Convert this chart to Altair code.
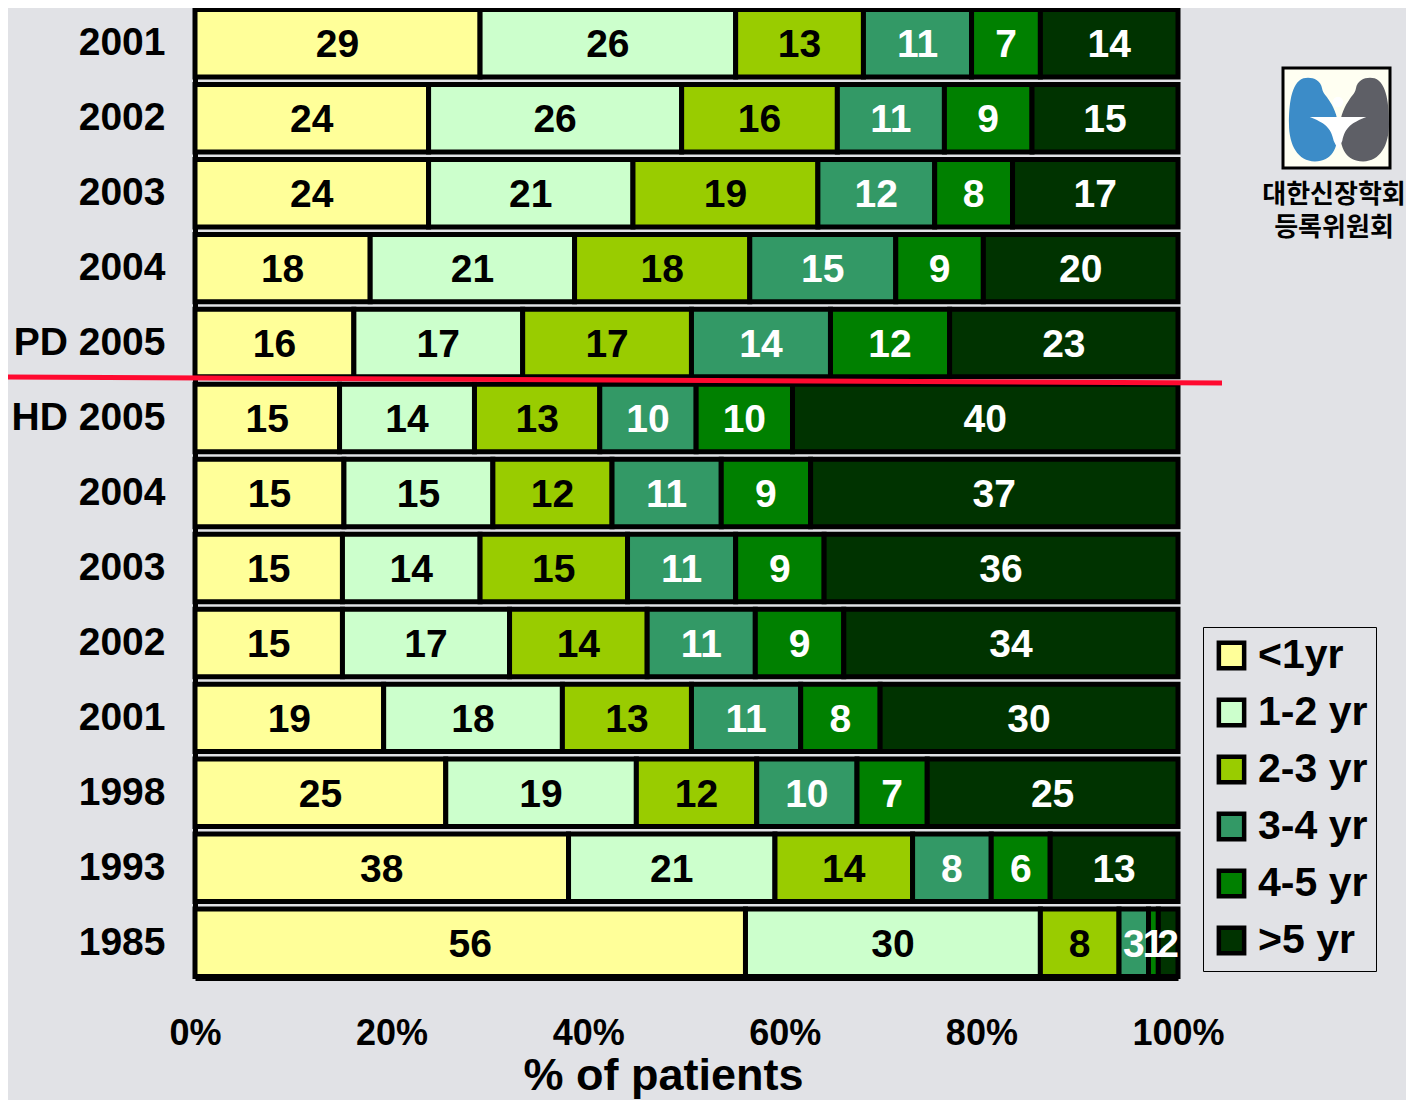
import altair as alt
import pandas as pd

row_labels = ["2001", "2002", "2003", "2004", "PD 2005", "HD 2005",
              "2004", "2003", "2002", "2001", "1998", "1993", "1985"]
categories = ["<1yr", "1-2 yr", "2-3 yr", "3-4 yr", "4-5 yr", ">5 yr"]
colors = ["#FFFF99", "#CCFFCC", "#99CC00", "#339966", "#008000", "#003300"]
text_colors = ["black", "black", "black", "white", "white", "white"]

lt1 = [29, 24, 24, 18, 16, 15, 15, 15, 15, 19, 25, 38, 56]
y1_2 = [26, 26, 21, 21, 17, 14, 15, 14, 17, 18, 19, 21, 30]
y2_3 = [13, 16, 19, 18, 17, 13, 12, 15, 14, 13, 12, 14, 8]
y3_4 = [11, 11, 12, 15, 14, 10, 11, 11, 11, 11, 10, 8, 3]
y4_5 = [7, 9, 8, 9, 12, 10, 9, 9, 9, 8, 7, 6, 1]
gt5 = [14, 15, 17, 20, 23, 40, 37, 36, 34, 30, 25, 13, 2]
series = [lt1, y1_2, y2_3, y3_4, y4_5, gt5]

x_ticks = [0, 0.2, 0.4, 0.6, 0.8, 1.0]
logo_line1 = "대한신장학회"
logo_line2 = "등록위원회"

recs = []
for i, lab in enumerate(row_labels):
    for j, cat in enumerate(categories):
        recs.append({"row": f"{i:02d}|{lab}", "cat": cat, "order": j,
                     "value": series[j][i], "tc": text_colors[j]})
df = pd.DataFrame(recs)

BG = "#E1E2E6"
FONT = "Liberation Sans"
NARROW = "Liberation Sans Narrow, Arial Narrow, Liberation Sans"

yenc = alt.Y("row:N", title=None,
             scale=alt.Scale(paddingInner=0.1, paddingOuter=0.02),
             axis=alt.Axis(labelExpr="split(datum.label, '|')[1]",
                           labelFont=FONT, labelFontSize=39, labelFontWeight="bold",
                           labelColor="black", labelPadding=30, ticks=False,
                           domainColor="black", domainWidth=5))

base = alt.Chart(df).transform_stack(
    stack="value", groupby=["row"], as_=["v0", "v1"],
    offset="normalize", sort=[alt.SortField("order", order="ascending")]
).transform_calculate(mid="(datum.v0 + datum.v1) / 2")

bars = base.mark_bar(stroke="black", strokeWidth=5, strokeJoin="miter").encode(
    x=alt.X("v0:Q", scale=alt.Scale(domain=[0, 1], nice=False, zero=True),
            title="% of patients",
            axis=alt.Axis(values=x_ticks, format=".0%", grid=False, ticks=False,
                          labelFont=NARROW, labelFontSize=36, labelFontWeight="bold",
                          labelColor="black", labelPadding=38, labelFlush=False,
                          titleFont=NARROW, titleFontSize=45, titleFontWeight="bold",
                          titleColor="black", titlePadding=2, titleX=468,
                          domainColor="black", domainWidth=5)),
    x2="v1:Q",
    y=yenc,
    fill=alt.Fill("cat:N", sort=categories,
                  scale=alt.Scale(domain=categories, range=colors),
                  legend=alt.Legend(title=None, orient="none", legendX=1008, legendY=619,
                                    symbolType="square", symbolSize=640,
                                    symbolStrokeColor="black", symbolStrokeWidth=4.5,
                                    labelFont=FONT, labelFontSize=41, labelFontWeight="bold",
                                    labelColor="black", labelOffset=6, rowPadding=12,
                                    padding=8, strokeColor="black", fillColor=BG,
                                    labelLimit=300)),
)

texts = base.mark_text(font=FONT, fontSize=39, fontWeight="bold", baseline="middle", dy=2).encode(
    x="mid:Q",
    y=yenc,
    text="value:Q",
    color=alt.Color("tc:N", scale=None),
)

one = alt.Data(values=[{"k": 1}])

red_line = alt.Chart(one).mark_rule(color="#FF0A30", strokeWidth=5, clip=False).encode(
    x=alt.value(-187), x2=alt.value(1027), y=alt.value(369), y2=alt.value(375))

logo_box = alt.Chart(one).mark_rect(fill="#FFFFF2", stroke="black", strokeWidth=3).encode(
    x=alt.value(1088), x2=alt.value(1195), y=alt.value(60), y2=alt.value(160))

kidney_left = "M 0.12 -0.72 C 0.08 -0.95 -0.15 -1 -0.32 -0.96 C -0.62 -0.86 -0.66 -0.3 -0.66 0.12 C -0.66 0.62 -0.45 1 -0.05 1 C 0.35 1 0.5 0.7 0.5 0.22 C 0.5 -0.1 0.35 -0.35 0.28 -0.45 C 0.22 -0.55 0.14 -0.6 0.12 -0.72 Z"
kidney_right = "M -0.12 -0.72 C -0.08 -0.95 0.15 -1 0.32 -0.96 C 0.62 -0.86 0.66 -0.3 0.66 0.12 C 0.66 0.62 0.45 1 0.05 1 C -0.35 1 -0.5 0.7 -0.5 0.22 C -0.5 -0.1 -0.35 -0.35 -0.28 -0.45 C -0.22 -0.55 -0.14 -0.6 -0.12 -0.72 Z"
figure = "M -1 -0.25 L 1 -0.25 C 0.5 -0.05 0.25 0.1 0.15 0.6 L 0 0.9 L -0.15 0.6 C -0.25 0.1 -0.5 -0.05 -1 -0.25 Z"

k1 = alt.Chart(one).mark_point(shape=kidney_left, filled=True, fill="#3C8CC8", opacity=1, size=7200).encode(
    x=alt.value(1122), y=alt.value(111))
k2 = alt.Chart(one).mark_point(shape=kidney_right, filled=True, fill="#5E5F66", opacity=1, size=7200).encode(
    x=alt.value(1166), y=alt.value(111))
head = alt.Chart(one).mark_point(shape="circle", filled=True, fill="white", opacity=1, size=110).encode(
    x=alt.value(1143), y=alt.value(94))
body = alt.Chart(one).mark_point(shape=figure, filled=True, fill="white", opacity=1, size=3200).encode(
    x=alt.value(1143), y=alt.value(116))

t1 = alt.Chart(one).mark_text(font="Noto Sans CJK KR", fontSize=26, fontWeight="bold", color="black").encode(
    x=alt.value(1139), y=alt.value(187), text=alt.value(logo_line1))
t2 = alt.Chart(one).mark_text(font="Noto Sans CJK KR", fontSize=26, fontWeight="bold", color="black").encode(
    x=alt.value(1139), y=alt.value(220), text=alt.value(logo_line2))

chart = alt.layer(bars, texts, red_line, logo_box, k1, k2, head, body, t1, t2).properties(
    width=983, height=970,
    background=BG,
    padding={"left": 187, "top": 0, "right": 228, "bottom": 122},
    autosize=alt.AutoSizeParams(type="none"),
).configure_view(stroke=None)

chart.save("out.html", embed_options={"renderer": "svg", "actions": False})
